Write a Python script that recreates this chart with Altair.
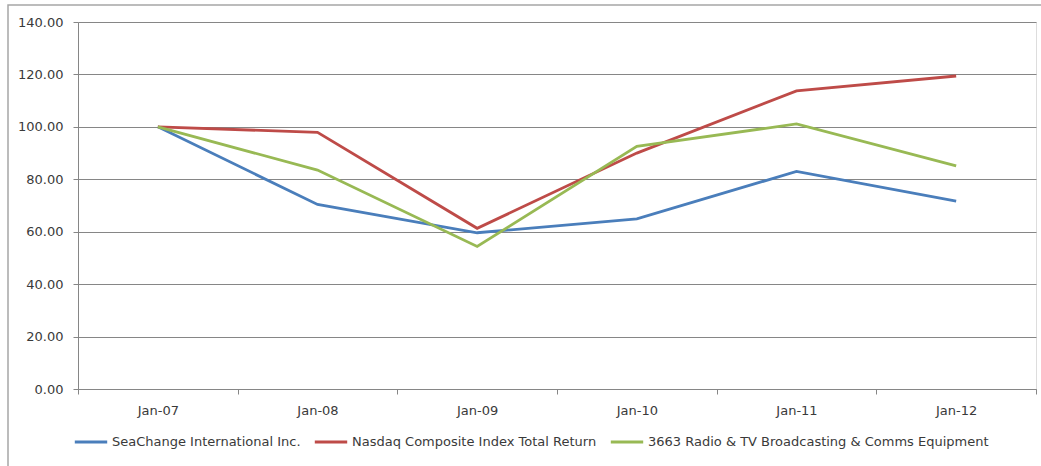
import altair as alt
import pandas as pd

dates = ["Jan-07", "Jan-08", "Jan-09", "Jan-10", "Jan-11", "Jan-12"]
series_names = [
    "SeaChange International Inc.",
    "Nasdaq Composite Index Total Return",
    "3663 Radio & TV Broadcasting & Comms Equipment",
]
seachange = [100.00, 70.4, 59.6, 64.9, 83.0, 71.7]
nasdaq = [100.00, 97.9, 61.3, 90.0, 113.7, 119.4]
radio_tv = [100.00, 83.5, 54.4, 92.6, 101.1, 85.1]
colors = ["#4A7EBB", "#BE4B48", "#98B954"]

rows = []
for name, vals in zip(series_names, [seachange, nasdaq, radio_tv]):
    for d, v in zip(dates, vals):
        rows.append({"date": d, "series": name, "value": v})
df = pd.DataFrame(rows)

FONT = "DejaVu Sans"
FS = 13
AX = "#868686"
TXT = "#3a3a3a"

lines = alt.Chart(df).mark_line(strokeWidth=2.8).encode(
    x=alt.X(
        "date:N",
        sort=dates,
        scale=alt.Scale(type="band", paddingInner=0, paddingOuter=0),
        bandPosition=0.5,
        axis=alt.Axis(
            title=None, labelAngle=0, tickBand="extent", grid=False,
            domainColor=AX, tickColor=AX, tickSize=5, labelPadding=10,
            labelFont=FONT, labelFontSize=FS, labelColor=TXT,
        ),
    ),
    y=alt.Y(
        "value:Q",
        scale=alt.Scale(domain=[0, 140], nice=False),
        axis=alt.Axis(
            title=None, values=[0, 20, 40, 60, 80, 100, 120, 140], format=".2f",
            grid=True, gridColor=AX, gridWidth=1, domainColor=AX, tickColor=AX,
            tickSize=5, labelPadding=10, labelFont=FONT, labelFontSize=FS,
            labelColor=TXT,
        ),
    ),
    color=alt.Color(
        "series:N",
        scale=alt.Scale(domain=series_names, range=colors),
        legend=alt.Legend(
            title=None, orient="none", direction="horizontal",
            legendX=-5, legendY=402, symbolType="stroke", symbolSize=1050,
            symbolStrokeWidth=3, labelFont=FONT, labelFontSize=FS,
            labelColor=TXT, columnPadding=7, labelOffset=3,
            labelLimit=500,
        ),
    ),
)

border = alt.Chart(pd.DataFrame({"k": [0]})).mark_rect(
    fill=None, stroke="#a6a6a6", strokeWidth=1.5
).encode(
    x=alt.value(-70), y=alt.value(-17), x2=alt.value(975), y2=alt.value(460)
)

chart = alt.layer(border, lines).properties(
    width=958, height=367,
    autosize=alt.AutoSizeParams(type="none"),
    padding={"left": 78, "top": 22, "right": 5, "bottom": 77},
).configure_view(stroke=None).configure(background="white")

chart.save("out.html", embed_options={"renderer": "svg", "actions": False})
